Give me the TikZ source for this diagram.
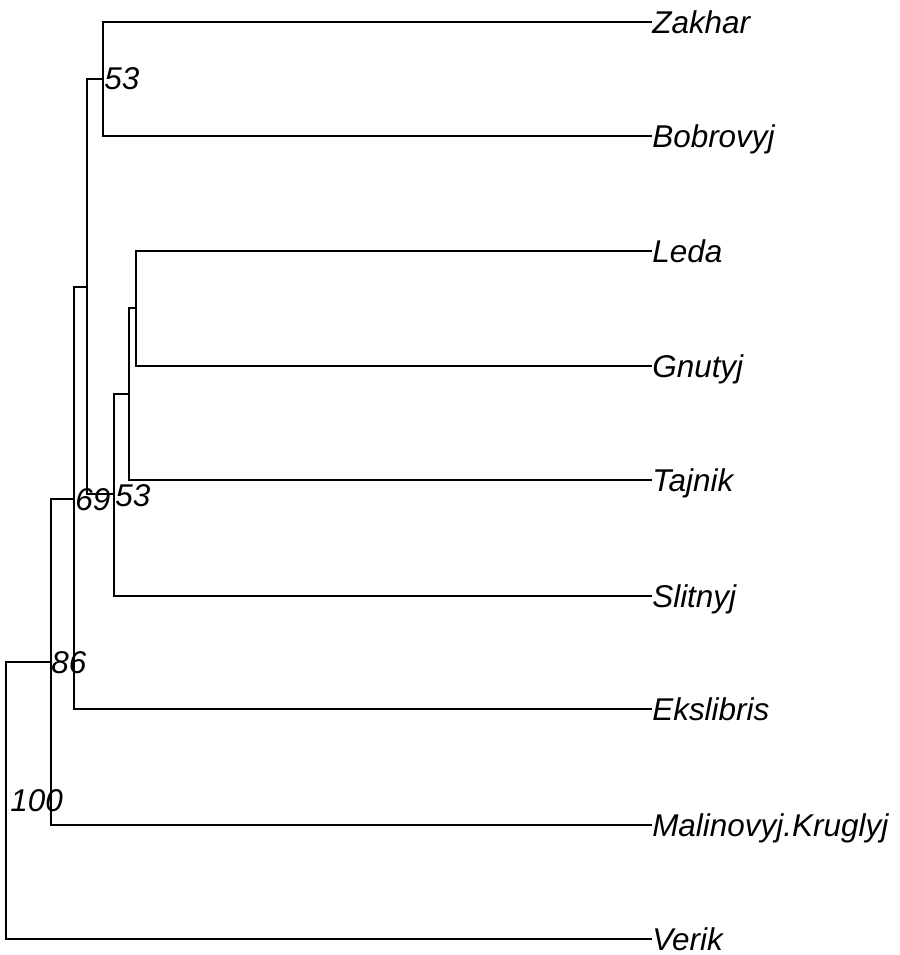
\documentclass[tikz,border=0pt]{standalone}
\usepackage{fontspec}
\setmainfont{Liberation Sans}
\begin{document}
\begin{tikzpicture}[x=0.75pt,y=-0.75pt,
  edge/.style={line width=1.35pt,line cap=rect},
  tiplab/.style={anchor=base west,inner sep=0pt,font=\fontsize{23.6}{28}\selectfont\itshape},
  nodelab/.style={anchor=base west,inner sep=0pt,font=\fontsize{23.6}{28}\selectfont\itshape}]
\useasboundingbox (0,0) rectangle (899,955);
% tips
\coordinate (t1) at (651,22);
\coordinate (t2) at (651,136);
\coordinate (t3) at (651,251);
\coordinate (t4) at (651,366);
\coordinate (t5) at (651,480);
\coordinate (t6) at (651,596);
\coordinate (t7) at (651,709);
\coordinate (t8) at (651,825);
\coordinate (t9) at (651,939);
% internal nodes
\coordinate (n1) at (103,79);
\coordinate (n2) at (136,308);
\coordinate (n3) at (129,394);
\coordinate (n4) at (114,494);
\coordinate (n5) at (87,287);
\coordinate (n6) at (74,499);
\coordinate (n7) at (51,662);
\coordinate (n0) at (6,800);
% edges
\draw[edge] (t1) -- (n1 |- t1) -- (n1 |- t2) -- (t2);
\draw[edge] (t3) -- (n2 |- t3) -- (n2 |- t4) -- (t4);
\draw[edge] (n2) -- (n3 |- n2) -- (n3 |- t5) -- (t5);
\draw[edge] (n3) -- (n4 |- n3) -- (n4 |- t6) -- (t6);
\draw[edge] (n1) -- (n5 |- n1) -- (n5 |- n4) -- (n4);
\draw[edge] (n5) -- (n6 |- n5) -- (n6 |- t7) -- (t7);
\draw[edge] (n6) -- (n7 |- n6) -- (n7 |- t8) -- (t8);
\draw[edge] (n7) -- (n0 |- n7) -- (n0 |- t9) -- (t9);
% tip labels
\node[tiplab] (l1) at ([xshift=0.75pt,yshift=-8.4pt]t1) {Zakhar};
\node[tiplab] (l2) at ([xshift=0.75pt,yshift=-8.4pt]t2) {Bobrovyj};
\node[tiplab] (l3) at ([xshift=0.75pt,yshift=-8.4pt]t3) {Leda};
\node[tiplab] (l4) at ([xshift=0.75pt,yshift=-8.4pt]t4) {Gnutyj};
\node[tiplab] (l5) at ([xshift=0.75pt,yshift=-8.4pt]t5) {Tajnik};
\node[tiplab] (l6) at ([xshift=0.75pt,yshift=-8.4pt]t6) {Slitnyj};
\node[tiplab] (l7) at ([xshift=0.75pt,yshift=-8.4pt]t7) {Ekslibris};
\node[tiplab] (l8) at ([xshift=0.75pt,yshift=-8.4pt]t8) {Malinovyj.Kruglyj};
\node[tiplab,text depth=0pt] (l9) at ([xshift=0.75pt,yshift=-8.4pt]t9) {Verik};
% node labels
\node[nodelab] (b1) at (104,90) {53};
\node[nodelab] (b4) at (115,506) {53};
\node[nodelab] (b6) at (75,510) {69};
\node[nodelab] (b7) at (51,673) {86};
\node[nodelab] (b0) at (10,811) {100};
\end{tikzpicture}
\end{document}
